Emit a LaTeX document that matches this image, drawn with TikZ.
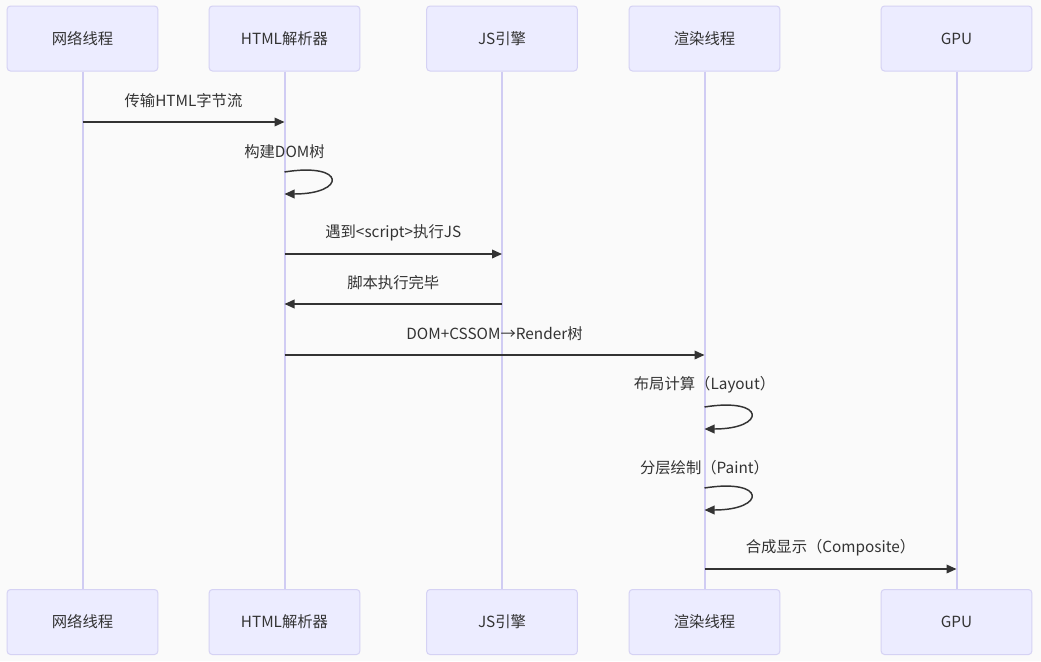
\documentclass[tikz,border=0pt]{standalone}
\usepackage{fontspec}
\setmainfont{Noto Sans CJK SC}
\usetikzlibrary{arrows.meta}
\definecolor{bgcol}{HTML}{FAFAFA}
\definecolor{actfill}{HTML}{ECECFF}
\definecolor{actline}{HTML}{D5D2F4}
\definecolor{lifecol}{HTML}{D0CCF3}
\definecolor{inkcol}{HTML}{333333}

\begin{document}
\begin{tikzpicture}[x=0.75pt, y=-0.75pt,
    actor/.style={draw=actline, fill=actfill, rounded corners=2.5pt, line width=0.75pt,
      minimum width=113pt, minimum height=48.75pt, text=inkcol, font=\fontsize{11.5}{13}\selectfont},
    life/.style={draw=lifecol, line width=1.5pt},
    msg/.style={draw=inkcol, line width=1.1pt, -{Triangle[length=7.5pt,width=6.5pt]}},
    lbl/.style={text=inkcol, font=\fontsize{11.5}{13}\selectfont}]
    \path[fill=bgcol, use as bounding box] (0,0) rectangle (1041,661);
    % participants, top row
    \node[actor] (net) at (82.5, 38.5) {网络线程};
    \node[actor] (html) at (284.5, 38.5) {HTML解析器};
    \node[actor] (js) at (502, 38.5) {JS引擎};
    \node[actor] (rend) at (704.5, 38.5) {渲染线程};
    \node[actor] (gpu) at (956.5, 38.5) {GPU};
    % participants, bottom row
    \node[actor] (netb) at (82.5, 622) {网络线程};
    \node[actor] (htmlb) at (284.5, 622) {HTML解析器};
    \node[actor] (jsb) at (502, 622) {JS引擎};
    \node[actor] (rendb) at (704.5, 622) {渲染线程};
    \node[actor] (gpub) at (956.5, 622) {GPU};
    % lifelines
    \draw[life] (net) -- (netb);
    \draw[life] (html) -- (htmlb);
    \draw[life] (js) -- (jsb);
    \draw[life] (rend) -- (rendb);
    \draw[life] (gpu) -- (gpub);
    % messages
    \draw[msg] (net |- 0,122) -- (html |- 0,122) node (t1) [lbl, midway, yshift=15.75pt] {传输HTML字节流};
    \node[lbl] (t2) at (html |- 0,152) {构建DOM树};
    \draw[msg] (html |- 0,172) .. controls +(62,-10) and +(62,0) .. (html |- 0,194);
    \draw[msg] (html |- 0,254) -- (js |- 0,254) node (t3) [lbl, midway, yshift=15.75pt] {遇到<script>执行JS};
    \draw[msg] (js |- 0,304) -- (html |- 0,304) node (t4) [lbl, midway, yshift=15.75pt] {脚本执行完毕};
    \draw[msg] (html |- 0,355) -- (rend |- 0,355) node (t5) [lbl, midway, yshift=15.75pt] {DOM+CSSOM→Render树};
    \node[lbl] (t6) at (rend |- 0,385) {布局计算（Layout）};
    \draw[msg] (rend |- 0,407) .. controls +(62,-10) and +(62,0) .. (rend |- 0,429);
    \node[lbl] (t7) at (rend |- 0,468) {分层绘制（Paint）};
    \draw[msg] (rend |- 0,488) .. controls +(62,-10) and +(62,0) .. (rend |- 0,510);
    \draw[msg] (rend |- 0,569) -- (gpu |- 0,569) node (t8) [lbl, midway, yshift=15.75pt] {合成显示（Composite）};
\end{tikzpicture}
\end{document}
